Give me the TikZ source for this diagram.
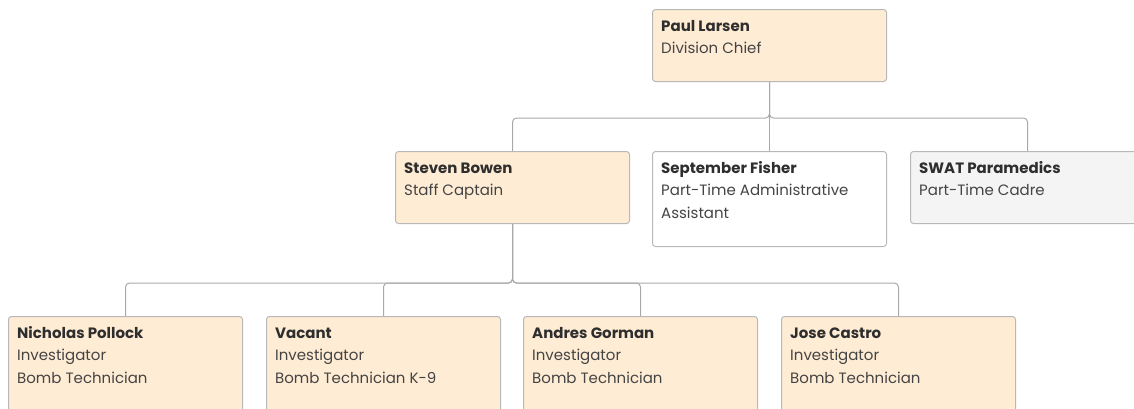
\documentclass[tikz,border=0pt]{standalone}
\usepackage{fontspec}
\setmainfont{Poppins}
\definecolor{peach}{HTML}{FFECD4}
\definecolor{paper}{HTML}{F4F4F4}
\definecolor{edge}{HTML}{B8B8B8}
\definecolor{wire}{HTML}{A9A9A9}
\definecolor{ink}{HTML}{2E2E2E}
\definecolor{soft}{HTML}{444444}
\tikzset{
  card/.style={draw=edge, line width=1pt, rounded corners=3pt, anchor=north west,
    minimum width=234pt, minimum height=72pt, inner sep=0pt, fill=peach},
  tall/.style={minimum height=95pt},
  plain/.style={fill=white},
  grey/.style={fill=paper},
  txt/.style={anchor=north west, inner sep=0pt, align=left, text=soft,
    font=\fontsize{15}{22.5}\selectfont},
  link/.style={draw=wire, line width=1pt, rounded corners=4pt},
}
% first line gets a fixed height so every baseline sits at the same depth
\newcommand{\who}[1]{\rule{0pt}{12pt}{\bfseries\color{ink}#1}}
\begin{document}
\begin{tikzpicture}[x=1pt,y=-1pt]
  \useasboundingbox (0,0) rectangle (1134,408);
  \clip (0,0) rectangle (1134,408);

  % boxes
  \node[card] (paul) at (652,9) {};
  \node[card] (steven) at (395,151) {};
  \node[card, tall, plain] (sept) at (652,151) {};
  \node[card, grey] (swat) at (910,151) {};
  \node[card, minimum height=110pt] (nick) at (8,316) {};
  \node[card, minimum height=110pt] (vac) at (266,316) {};
  \node[card, minimum height=110pt] (andres) at (523,316) {};
  \node[card, minimum height=110pt] (jose) at (781,316) {};

  % texts
  \node[txt] (paul-t) at ([shift={(9pt,-10pt)}]paul.north west) {\who{Paul Larsen}\\Division Chief};
  \node[txt] (steven-t) at ([shift={(9pt,-10pt)}]steven.north west) {\who{Steven Bowen}\\Staff Captain};
  \node[txt] (sept-t) at ([shift={(9pt,-10pt)}]sept.north west) {\who{September Fisher}\\Part-Time Administrative\\Assistant};
  \node[txt] (swat-t) at ([shift={(9pt,-10pt)}]swat.north west) {\who{SWAT Paramedics}\\Part-Time Cadre};
  \node[txt] (nick-t) at ([shift={(9pt,-10pt)}]nick.north west) {\who{Nicholas Pollock}\\Investigator\\Bomb Technician};
  \node[txt] (vac-t) at ([shift={(9pt,-10pt)}]vac.north west) {\who{Vacant}\\Investigator\\Bomb Technician K-9};
  \node[txt] (andres-t) at ([shift={(9pt,-10pt)}]andres.north west) {\who{Andres Gorman}\\Investigator\\Bomb Technician};
  \node[txt] (jose-t) at ([shift={(9pt,-10pt)}]jose.north west) {\who{Jose Castro}\\Investigator\\Bomb Technician};

  % connectors
  \draw[link] (paul.south) -- ++(0,36) -| (steven.north);
  \draw[link] (paul.south) -- (sept.north);
  \draw[link] (paul.south) -- ++(0,36) -| (swat.north);
  \draw[link] (steven.south) -- ++(0,59) -| (nick.north);
  \draw[link] (steven.south) -- ++(0,59) -| (vac.north);
  \draw[link] (steven.south) -- ++(0,59) -| (andres.north);
  \draw[link] (steven.south) -- ++(0,59) -| (jose.north);
\end{tikzpicture}
\end{document}
